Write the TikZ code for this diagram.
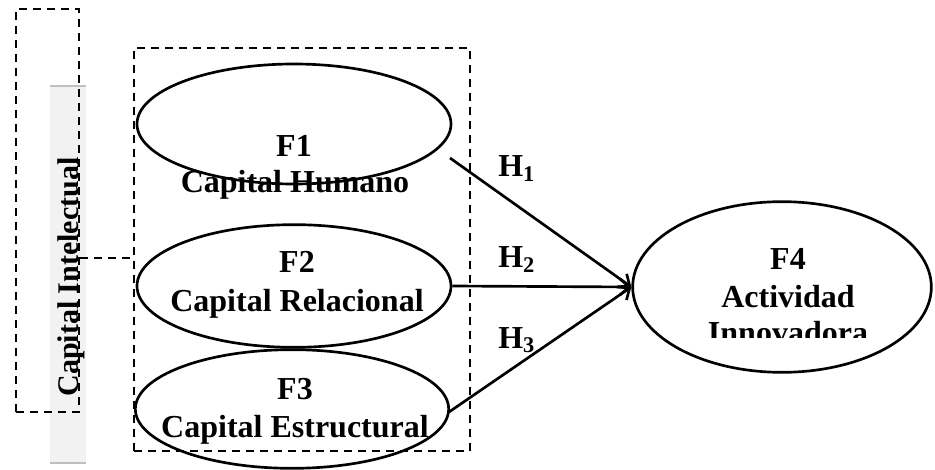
\documentclass[tikz,border=0pt]{standalone}
\usepackage{fontspec}
\setmainfont{Liberation Serif}
\usetikzlibrary{shapes.geometric,arrows.meta}
\definecolor{stripgray}{HTML}{F2F2F2}
\definecolor{stripline}{HTML}{BFBFBF}
\begin{document}
\begin{tikzpicture}[x=0.75pt,y=-0.75pt,
  dbox/.style={draw, line width=2pt, dash pattern=on 6pt off 4.5pt},
  ell/.style={draw, ellipse, line width=2pt, inner sep=0pt},
  lbl/.style={font=\bfseries\fontsize{24}{28}\selectfont, inner sep=0pt, anchor=base},
  arr/.style={line width=2pt, -{Straight Barb[length=7pt,width=12pt,line width=2pt]}}]
\useasboundingbox (0,0) rectangle (935,470);
% grey strip with vertical title
\fill[stripgray] (50,86) rectangle (86,463);
\draw[stripline, line width=1pt] (50,86) -- (86,86) (50,463) -- (86,463);
\node[lbl, rotate=90, font=\bfseries\fontsize{22.5}{26}\selectfont] (ci) at (78,277) {Capital Intelectual};
% dashed frames
\node[dbox, minimum width=47.25pt, minimum height=302.25pt, inner sep=0pt] (leftbox) at (47.5,210.5) {};
\node[dbox, minimum width=252pt, minimum height=302.25pt, inner sep=0pt] (bigbox) at (302,249.5) {};
\draw[dbox] (leftbox.east |- 0,258) -- (bigbox.west |- 0,258);
% ellipses
\node[ell, minimum width=235.5pt, minimum height=90pt] (F1) at (294,124) {};
\node[ell, minimum width=235.5pt, minimum height=92pt] (F2) at (294,286) {};
\node[ell, minimum width=235pt, minimum height=89pt] (F3) at (292,409) {};
\node[ell, minimum width=224pt, minimum height=128pt] (F4) at (782,287) {};
% texts
\node[lbl] (t1a) at (294,157) {F1};
\node[lbl] (t1b) at (295,193) {Capital Humano};
\node[lbl] (t2a) at (297,273) {F2};
\node[lbl] (t2b) at (297,311) {Capital Relacional};
\node[lbl] (t3a) at (295,399) {F3};
\node[lbl] (t3b) at (295,437) {Capital Estructural};
\node[lbl] (t4a) at (788,270) {F4};
\node[lbl] (t4b) at (788,307) {Actividad};
\begin{scope}
\clip (640,200) rectangle (935,337);
\node[lbl] (t4c) at (788,344) {Innovadora};
\end{scope}
% connectors
\coordinate (h1s) at (450,158);
\coordinate (h3s) at (449,412);
\draw[arr] (h1s) -- (F4.west);
\draw[arr] (F2.east) -- (F4.west);
\draw[arr] (h3s) -- (F4.west);
\node[lbl, anchor=base west] (H1) at (498,177) {H\textsubscript{1}};
\node[lbl, anchor=base west] (H2) at (498,268) {H\textsubscript{2}};
\node[lbl, anchor=base west] (H3) at (498,348) {H\textsubscript{3}};
\end{tikzpicture}
\end{document}
